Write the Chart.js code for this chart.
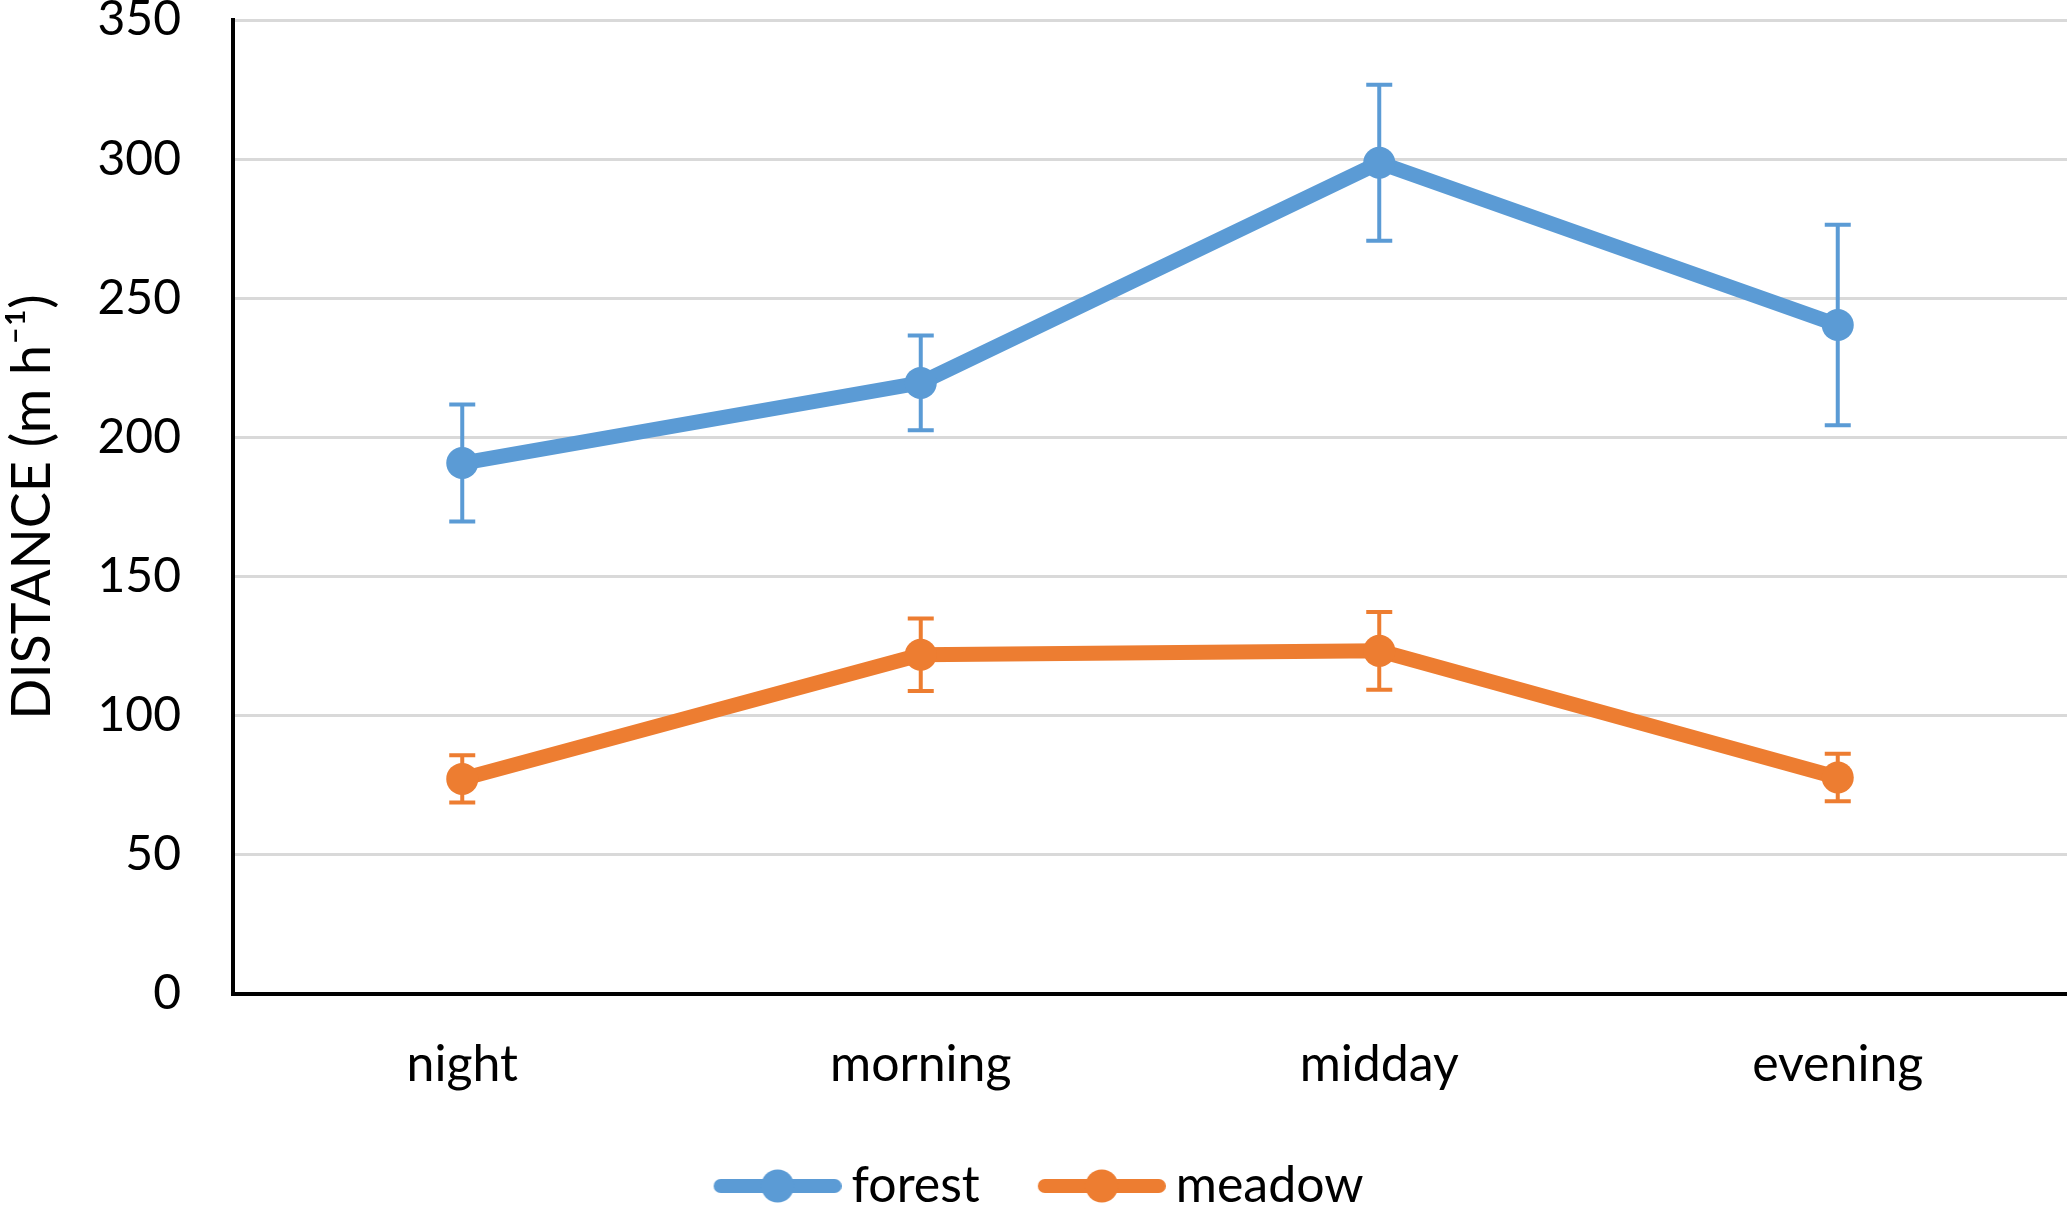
<!DOCTYPE html>
<html>
<head>
<meta charset="utf-8">
<script src="https://cdn.jsdelivr.net/npm/chart.js@4/dist/chart.umd.min.js"></script>
<style>
html,body{margin:0;padding:0;background:#fff;overflow:hidden;}
canvas{display:block;}
</style>
</head>
<body>
<canvas id="c" width="2067" height="1205" style="width:2067px;height:1205px"></canvas>
<script>
const categories = ["night", "morning", "midday", "evening"];
const forestValues = [190.8, 219.6, 298.7, 240.4];
const forestErrors = [21, 17, 28, 36];
const meadowValues = [77.3, 121.9, 123.3, 77.8];
const meadowErrors = [8.5, 13, 14, 8.5];
const yTicks = [0, 50, 100, 150, 200, 250, 300, 350];

const BLUE = "#5B9BD5";
const ORANGE = "#ED7D31";
const FONT = "Lato, 'Open Sans', sans-serif";

// legend icon: line with a circle marker, drawn at the right side of a wider transparent image
const ICON_W = 181, ICON_LEN = 128;
function legendIcon(color) {
  const cv = document.createElement("canvas");
  cv.width = ICON_W; cv.height = 34;
  const g = cv.getContext("2d");
  const x0 = ICON_W - ICON_LEN;
  g.strokeStyle = color; g.lineWidth = 14; g.lineCap = "round";
  g.beginPath(); g.moveTo(x0 + 7, 17); g.lineTo(ICON_W - 7, 17); g.stroke();
  g.fillStyle = color;
  g.beginPath(); g.arc(x0 + ICON_LEN / 2, 17, 16.5, 0, Math.PI * 2); g.fill();
  return cv;
}
const icons = [legendIcon(BLUE), legendIcon(ORANGE)];

const errorBars = {
  id: "errorBars",
  beforeDatasetsDraw(chart) {
    const ctx = chart.ctx;
    const y = chart.scales.y;
    chart.data.datasets.forEach((ds, di) => {
      const meta = chart.getDatasetMeta(di);
      ctx.save();
      ctx.strokeStyle = ds.borderColor;
      ctx.lineWidth = 4;
      meta.data.forEach((pt, i) => {
        const v = ds.data[i], e = ds.errors[i];
        const x = pt.x;
        const yt = y.getPixelForValue(v + e), yb = y.getPixelForValue(v - e);
        ctx.beginPath();
        ctx.moveTo(x, yt); ctx.lineTo(x, yb);
        ctx.moveTo(x - 13, yt); ctx.lineTo(x + 13, yt);
        ctx.moveTo(x - 13, yb); ctx.lineTo(x + 13, yb);
        ctx.stroke();
      });
      ctx.restore();
    });
  }
};

const legendShift = {
  id: "legendShift",
  afterLayout(chart) {
    const lg = chart.legend;
    if (!lg) return;
    lg.top += 16; lg.bottom += 16;
    lg.left -= 14; lg.right -= 14;
  }
};

new Chart(document.getElementById("c"), {
  type: "line",
  data: {
    labels: categories,
    datasets: [
      { label: "forest", data: forestValues, errors: forestErrors, borderColor: BLUE, backgroundColor: BLUE,
        borderWidth: 15, pointRadius: 16, pointHoverRadius: 16, pointBorderWidth: 0, pointBackgroundColor: BLUE, tension: 0 },
      { label: "meadow", data: meadowValues, errors: meadowErrors, borderColor: ORANGE, backgroundColor: ORANGE,
        borderWidth: 15, pointRadius: 16, pointHoverRadius: 16, pointBorderWidth: 0, pointBackgroundColor: ORANGE, tension: 0 }
    ]
  },
  options: {
    responsive: false,
    animation: false,
    devicePixelRatio: 1,
    layout: { autoPadding: false, padding: { left: 0, right: 0, top: 0, bottom: 0 } },
    plugins: {
      tooltip: { enabled: false },
      legend: {
        position: "bottom",
        labels: {
          font: { family: FONT, size: 50 },
          color: "#000",
          usePointStyle: true,
          pointStyleWidth: 151,
          padding: 20,
          generateLabels(chart) {
            const items = Chart.defaults.plugins.legend.labels.generateLabels(chart);
            items.forEach((it, i) => { it.pointStyle = icons[i]; });
            return items;
          }
        }
      }
    },
    scales: {
      x: {
        offset: true,
        grid: { display: false, drawTicks: false },
        border: { display: true, color: "#000", width: 4 },
        ticks: { font: { family: FONT, size: 50 }, color: "#000", padding: 41 },
        afterFit(s) { s.paddingLeft = 0; s.paddingRight = 0; s.height = 131; }
      },
      y: {
        min: 0, max: 350,
        afterBuildTicks(s) { s.ticks = yTicks.map(v => ({ value: v })); },
        grid: { color: "#D9D9D9", lineWidth: 3, drawTicks: false },
        border: { display: true, color: "#000", width: 4 },
        ticks: { font: { family: FONT, size: 48 }, color: "#000", padding: 52 },
        title: { display: true, text: "DISTANCE (m h\u207B\u00B9)", font: { family: FONT, size: 54 }, color: "#000", padding: { top: 0, bottom: 0 } },
        afterFit(s) { s.width = 233; s.paddingTop = 20; s.paddingBottom = 0; }
      }
    }
  },
  plugins: [errorBars, legendShift]
});
</script>
</body>
</html>
